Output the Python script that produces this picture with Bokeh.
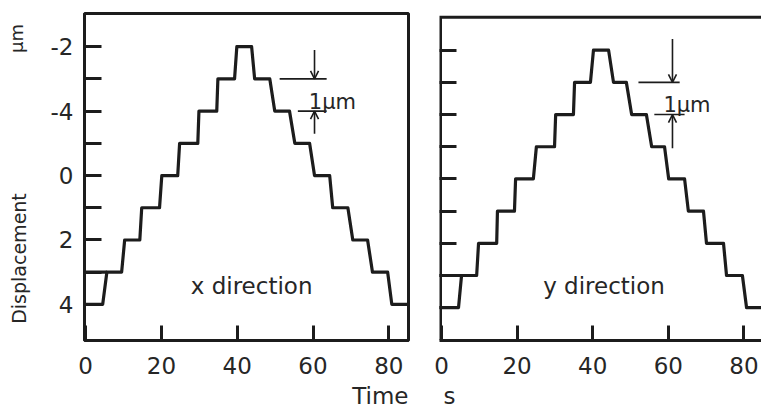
import numpy as np
from bokeh.plotting import figure
from bokeh.models import Range1d, FixedTicker, Label, Arrow, OpenHead, Title
from bokeh.layouts import row
from bokeh.embed import file_html
from bokeh.resources import INLINE

# ---------------- data ----------------
# x direction trace: time (s) and displacement level (um)
x_dir_time = [-0.5, 4.5, 5.6, 9.5, 10.3, 14.3, 14.8, 19.5, 20.1, 24.3, 24.8, 29.6, 29.9,
              34.6, 34.9, 39.3, 39.9, 43.8, 44.6, 48.6, 49.9, 53.8, 55.2, 59.1, 60.4,
              64.4, 65.2, 69.2, 70.5, 74.4, 75.7, 79.7, 80.8, 85.5]
x_dir_level = [4, 4, 3, 3, 2, 2, 1, 1, 0, 0, -1, -1, -2,
               -2, -3, -3, -4, -4, -3, -3, -2, -2, -1, -1, 0,
               0, 1, 1, 2, 2, 3, 3, 4, 4]
x_dir_lead_time = [-0.5, 5.6]
x_dir_lead_level = [3, 3]

# y direction trace
y_dir_time = [-0.6, 4.5, 5.3, 9.3, 9.8, 14.6, 14.8, 19.3, 19.6, 24.3, 25.1, 29.9, 30.2,
              34.9, 35.2, 39.4, 40.2, 44.2, 45.5, 48.9, 50.3, 54.2, 55.6, 59.0, 60.1,
              64.3, 65.3, 69.3, 70.1, 74.6, 75.4, 79.6, 80.7, 85.5]
y_dir_level = [4, 4, 3, 3, 2, 2, 1, 1, 0, 0, -1, -1, -2,
               -2, -3, -3, -4, -4, -3, -3, -2, -2, -1, -1, 0,
               0, 1, 1, 2, 2, 3, 3, 4, 4]
y_dir_lead_time = [-0.6, 5.3]
y_dir_lead_level = [3, 3]

x_tick_values = [0, 20, 40, 60, 80]
y_tick_values = [-4, -3, -2, -1, 0, 1, 2, 3, 4]
y_tick_labels = ["-2", "", "-4", "", "0", "", "2", "", "4"]

panel_titles = ["x direction", "y direction"]
step_label = "1\u03bcm"
y_label = "Displacement"
y_unit = "\u03bcm"
x_label = "Time"
x_unit = "s"
# ---------------------------------------------------------------

FONT = "DejaVu Sans"
INK = "#1c1c1c"
TXT = "#262626"
TOP, BOTTOM = 13, 75   # shared borders (row aligns the frames)


def style_axes(p, show_labels):
    p.xgrid.visible = False
    p.ygrid.visible = False
    p.xaxis.ticker = FixedTicker(ticks=x_tick_values, minor_ticks=[])
    p.yaxis.ticker = FixedTicker(ticks=y_tick_values, minor_ticks=[])
    for ax in (p.xaxis[0], p.yaxis[0]):
        ax.axis_line_width = 3
        ax.axis_line_color = INK
        ax.major_tick_line_width = 3
        ax.major_tick_line_color = INK
        ax.major_tick_out = 0
        ax.major_label_text_font = FONT
        ax.major_label_text_font_size = "23px"
        ax.major_label_text_color = TXT
    p.xaxis.major_tick_in = 15
    p.yaxis.major_tick_in = 17
    p.xaxis.major_label_standoff = 16
    p.yaxis.major_label_standoff = 11
    if show_labels:
        p.yaxis.major_label_overrides = {v: t for v, t in zip(y_tick_values, y_tick_labels)}
    else:
        p.yaxis.major_label_overrides = {v: "" for v in y_tick_values}


def add_step_marker(p, xa, y_upper, y_lower, x_up0, x_up1, x_lo0, x_lo1, y_top, y_bot, tx, ty):
    p.segment(x0=[x_up0, x_lo0], y0=[y_upper, y_lower], x1=[x_up1, x_lo1], y1=[y_upper, y_lower],
              line_width=1.6, line_color=INK)
    p.add_layout(Arrow(end=OpenHead(size=8, line_width=1.6, line_color=INK),
                       x_start=xa, y_start=y_top, x_end=xa, y_end=y_upper,
                       line_width=1.6, line_color=INK))
    p.add_layout(Arrow(end=OpenHead(size=8, line_width=1.6, line_color=INK),
                       x_start=xa, y_start=y_bot, x_end=xa, y_end=y_lower,
                       line_width=1.6, line_color=INK))
    p.add_layout(Label(x=tx, y=ty, text=step_label, text_font=FONT, text_font_size="21px",
                       text_color=TXT, text_align="left", text_baseline="alphabetic"))


def bottom_title(p, text, align, offset):
    t = Title(text=text, align=align, text_font=FONT, text_font_size="23px",
              text_font_style="normal", text_color=TXT, standoff=9, offset=offset)
    p.add_layout(t, "below")


# ---------------- narrow strip holding the y-axis title ----------------
strip = figure(width=34, height=415, output_backend="svg", toolbar_location=None,
               x_range=Range1d(0, 34), y_range=Range1d(415 - BOTTOM, TOP),
               x_axis_location=None, y_axis_location=None,
               min_border_left=0, min_border_right=0, min_border_top=TOP, min_border_bottom=BOTTOM,
               background_fill_color="white", border_fill_color="white")
strip.outline_line_color = None
strip.xgrid.visible = False
strip.ygrid.visible = False
strip.add_layout(Label(x=18, y=258, text=y_label, text_font=FONT, text_font_size="19px",
                       text_color=TXT, text_align="center", text_baseline="middle",
                       angle=np.pi / 2))
strip.add_layout(Label(x=16, y=38, text=y_unit, text_font=FONT, text_font_size="18px",
                       text_color=TXT, text_align="center", text_baseline="middle",
                       angle=np.pi / 2))

# ---------------- left panel: x direction ----------------
left = figure(width=386, height=415, output_backend="svg", toolbar_location=None,
              x_range=Range1d(-0.3, 85.2), y_range=Range1d(5.12, -5.03),
              min_border_left=50, min_border_right=12, min_border_top=TOP, min_border_bottom=BOTTOM,
              background_fill_color="white", border_fill_color="white")
left.outline_line_color = INK
left.outline_line_width = 3
style_axes(left, True)
bottom_title(left, x_label, "right", 0)

left.line(x_dir_time, x_dir_level, line_width=3.2, line_color=INK, line_join="round")
left.line(x_dir_lead_time, x_dir_lead_level, line_width=3.2, line_color=INK)

add_step_marker(left, 60.4, -3, -2, 51.2, 63.6, 56.0, 63.6, -3.9, -1.3, 58.9, -2.28)

left.add_layout(Label(x=43.8, y=3.42, text=panel_titles[0], text_font=FONT, text_font_size="23px",
                      text_color=TXT, text_align="center", text_baseline="alphabetic"))

# ---------------- right panel: y direction ----------------
rx = Range1d(-0.53, 84.65)
ry = Range1d(5.02, -5.14)
right = figure(width=341, height=415, output_backend="svg", toolbar_location=None,
               x_range=rx, y_range=ry,
               min_border_left=19, min_border_right=0, min_border_top=TOP, min_border_bottom=BOTTOM,
               background_fill_color="white", border_fill_color="white")
right.outline_line_color = None
style_axes(right, False)
right.yaxis.axis_line_color = None
bottom_title(right, x_unit, "left", 4)

# frame of the right panel: left and top borders only (right side is cut off)
border_x = rx.start + 0.27
border_y = ry.end + 0.12
right.line([border_x, border_x, rx.end], [ry.start, border_y, border_y],
           line_width=3, line_color=INK, line_join="miter")

right.line(y_dir_time, y_dir_level, line_width=3.2, line_color=INK, line_join="round")
right.line(y_dir_lead_time, y_dir_lead_level, line_width=3.2, line_color=INK)

add_step_marker(right, 61.1, -3, -2, 52.1, 63.0, 56.3, 64.3, -4.35, -0.95, 58.7, -2.3)

right.add_layout(Label(x=43.0, y=3.33, text=panel_titles[1], text_font=FONT, text_font_size="23px",
                       text_color=TXT, text_align="center", text_baseline="alphabetic"))

layout = row(strip, left, right)
open("out.html", "w").write(file_html(layout, INLINE))
